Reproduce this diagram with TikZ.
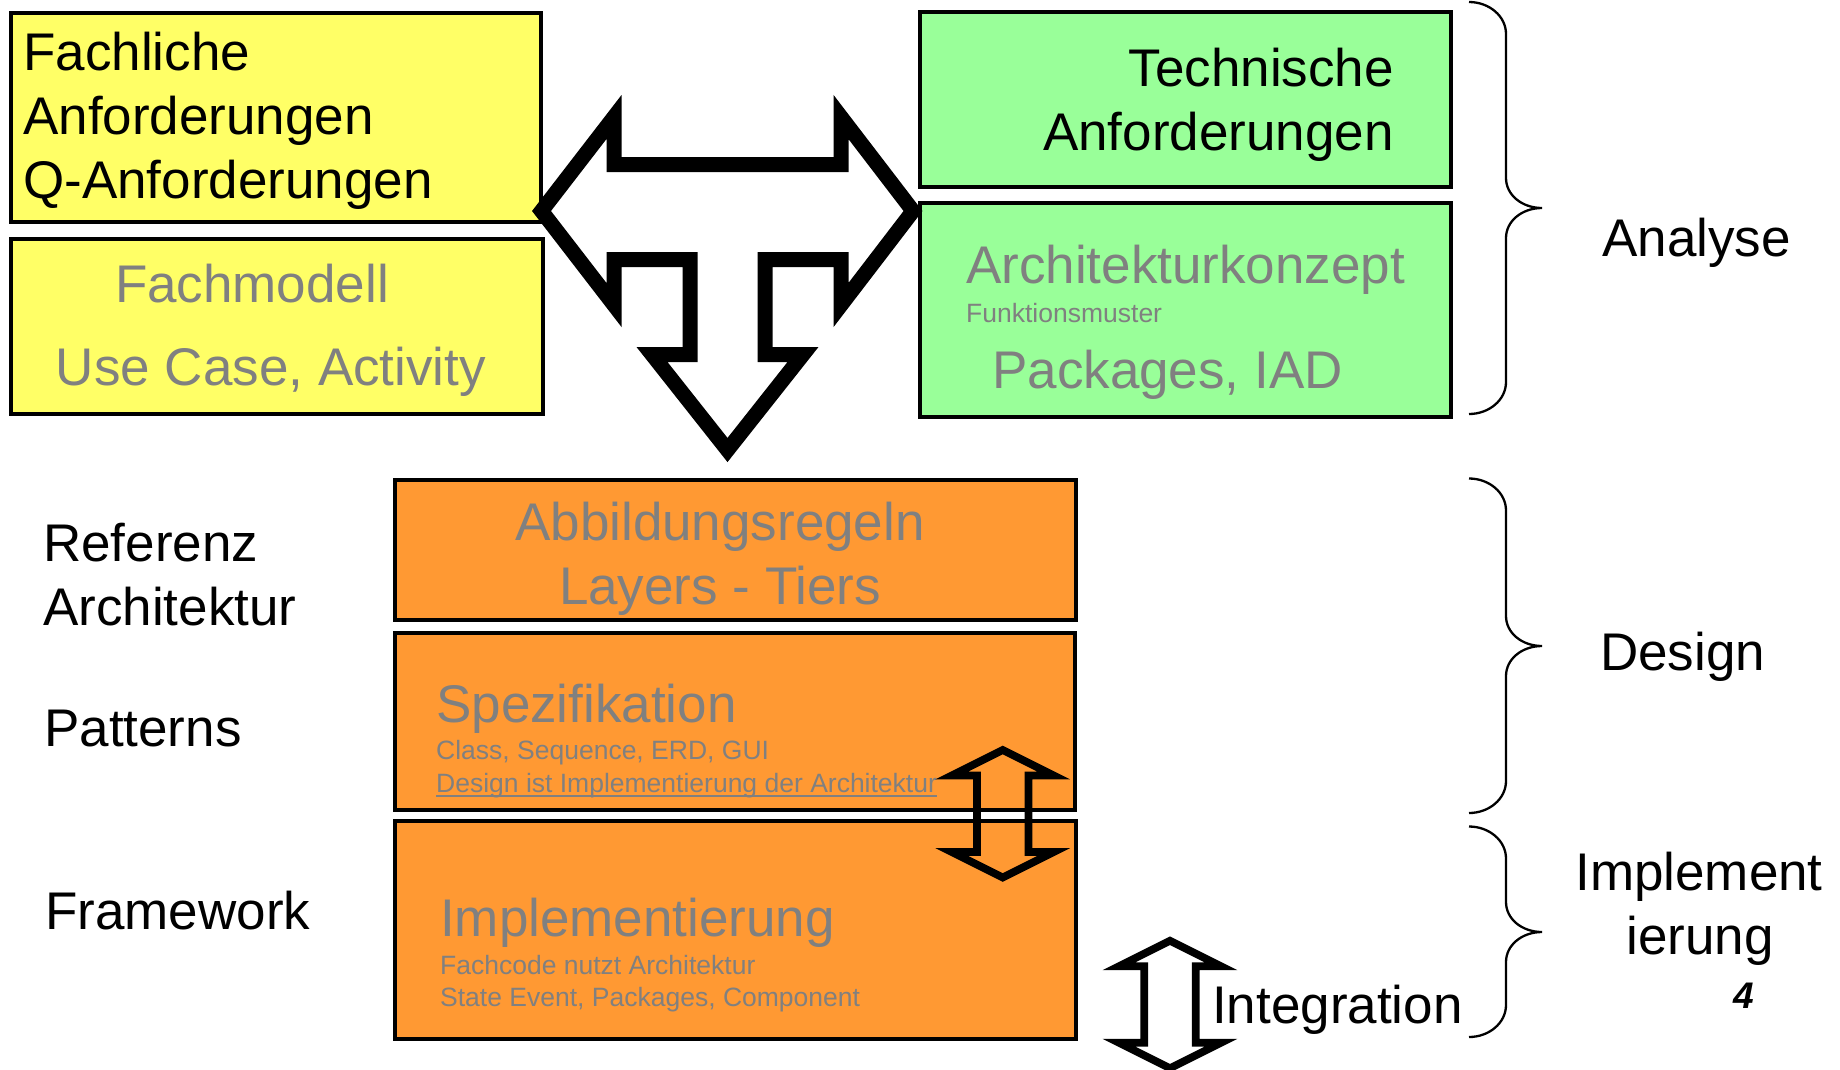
\documentclass[tikz,border=0pt]{standalone}
\usepackage{fontspec}
\setmainfont{Liberation Sans}
\definecolor{fachgelb}{HTML}{FFFF66}
\definecolor{technikgruen}{HTML}{99FF99}
\definecolor{designorange}{HTML}{FF9933}
\definecolor{textgrau}{HTML}{808080}
\newcommand\grossschrift{\fontsize{53}{64}\selectfont}
\newcommand\kleinschrift{\fontsize{26.5}{32}\selectfont}
\newcommand\zifferschrift{\fontsize{37}{44}\selectfont\bfseries\itshape}
% curly brace: top y, bottom y, tip y
\newcommand\geschweift[3]{%
  \draw[klammer] (1469,#1) .. controls (1489,#1) and (1506,{#1+14}) .. (1506,{#1+32})
    -- (1506,{#3-30}) .. controls (1506,{#3-13}) and (1522,#3) .. (1542,#3)
    .. controls (1522,#3) and (1506,{#3+13}) .. (1506,{#3+30})
    -- (1506,{#2-32}) .. controls (1506,{#2-14}) and (1489,#2) .. (1469,#2);}
\begin{document}
\begin{tikzpicture}[x=1pt,y=-1pt,
  box/.style={draw=black, line width=3.5pt, inner sep=0pt, anchor=north west},
  gross/.style={inner sep=0pt, font=\grossschrift, anchor=base west},
  klein/.style={inner sep=0pt, font=\kleinschrift, anchor=base west},
  grau/.style={text=textgrau},
  blockpfeil/.style={draw=black, line width=15pt, line join=miter, miter limit=10},
  klammer/.style={draw=black, line width=2.3pt},
  doppelpfeil/.pic={
    \draw[draw=black, line width=7.7pt, line join=miter, miter limit=10]
      (0,-63.75) -- (51,-38.25) -- (25.75,-38.25) -- (25.75,38.25) -- (51,38.25)
      -- (0,63.75) -- (-51,38.25) -- (-25.75,38.25) -- (-25.75,-38.25)
      -- (-51,-38.25) -- cycle;}
]
\useasboundingbox (0,0) rectangle (1840,1069);

% analysis boxes
\node[box, fill=fachgelb, minimum width=530pt, minimum height=209pt] (fachl) at (9,11) {};
\node[box, fill=fachgelb, minimum width=532pt, minimum height=175pt] (fachm) at (9,237) {};
\node[box, fill=technikgruen, minimum width=531pt, minimum height=175pt] (techn) at (918,10) {};
\node[box, fill=technikgruen, minimum width=531pt, minimum height=214pt] (arch) at (918,201) {};

% design and implementation boxes
\node[box, fill=designorange, minimum width=681pt, minimum height=140pt] (abbild) at (393,478) {};
\node[box, fill=designorange, minimum width=680pt, minimum height=177pt] (spez) at (393,631) {};
\node[box, fill=designorange, minimum width=681pt, minimum height=218pt] (impl) at (393,819) {};

% texts in the yellow boxes
\node[gross] (t1) at (23,70) {Fachliche};
\node[gross] (t2) at (23,134) {Anforderungen};
\node[gross] (t3) at (23,198) {Q-Anforderungen};
\node[gross, grau, anchor=base] (t4) at (252,302) {Fachmodell};
\node[gross, grau, anchor=base] (t5) at (271,385) {Use Case, Activity};

% texts in the green boxes
\node[gross, anchor=base east] (t6) at (1394,86) {Technische};
\node[gross, anchor=base east] (t7) at (1394,150) {Anforderungen};
\node[gross, grau] (t8) at (966,283) {Architekturkonzept};
\node[klein, grau] (t9) at (966,322) {Funktionsmuster};
\node[gross, grau] (t10) at (992,388) {Packages, IAD};

% texts in the orange boxes
\node[gross, grau, anchor=base] (t11) at (720,540) {Abbildungsregeln};
\node[gross, grau, anchor=base] (t12) at (720,604) {Layers - Tiers};
\node[gross, grau] (t13) at (436,722) {Spezifikation};
\node[klein, grau] (t14) at (436,759) {Class, Sequence, ERD, GUI};
\node[klein, grau] (designimpl) at (436,792) {Design ist Implementierung der Architektur};
\draw[textgrau, line width=2.5pt] ([yshift=-4pt]designimpl.base west) -- ([yshift=-4pt]designimpl.base east);
\node[gross, grau] (t15) at (440,936) {Implementierung};
\node[klein, grau] (t16) at (440,974) {Fachcode nutzt Architektur};
\node[klein, grau] (t17) at (440,1006) {State Event, Packages, Component};

% labels on the left
\node[gross] (l1) at (43,561) {Referenz};
\node[gross] (l2) at (43,625) {Architektur};
\node[gross] (l3) at (44,746) {Patterns};
\node[gross] (l4) at (45,929) {Framework};

% phase labels on the right
\node[gross] (p1) at (1602,256) {Analyse};
\node[gross] (p2) at (1600,670) {Design};
\node[gross, anchor=base] (p3) at (1699,890) {Implement};
\node[gross, anchor=base] (p4) at (1700,954) {ierung};
\node[inner sep=0pt, font=\zifferschrift, anchor=base] (seite) at (1744,1008) {4};
\node[gross] (integ) at (1212,1023) {Integration};

% braces
\geschweift{2}{414}{208}
\geschweift{478.5}{813}{646}
\geschweift{826.5}{1037}{932}

% block arrow: both requirement sides flow into the design
\draw[blockpfeil] (541.5,211) -- (614,117) -- (614,164.5) -- (841,164.5) -- (841,117)
  -- (913,211) -- (841,305) -- (841,259.5) -- (765,259.5) -- (765,354.5)
  -- (803,354.5) -- (727.5,450) -- (652,354.5) -- (690,354.5) -- (690,259.5)
  -- (614,259.5) -- (614,305) -- cycle;

% double arrows
\pic at (1002.7,813.75) {doppelpfeil};
\pic at (1170,1004.5) {doppelpfeil};
\end{tikzpicture}
\end{document}
